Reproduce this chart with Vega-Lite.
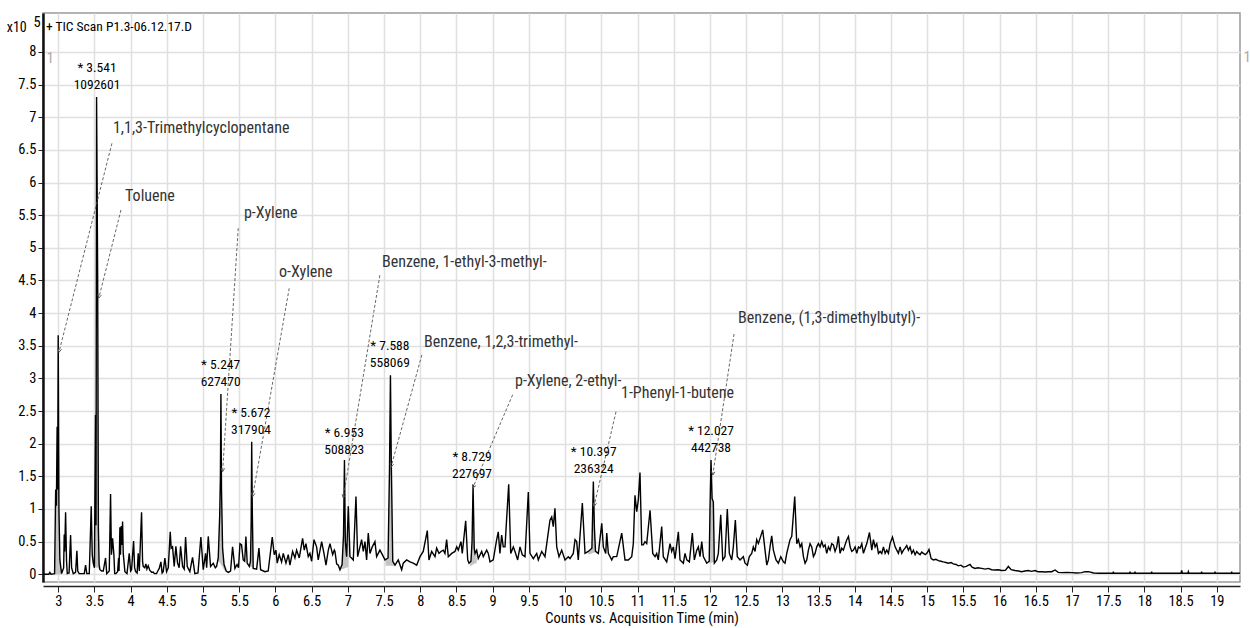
{
  "$schema": "https://vega.github.io/schema/vega-lite/v6.json",
  "width": 1197,
  "height": 569,
  "autosize": {"type": "none"},
  "padding": {"left": 43, "top": 13, "right": 10, "bottom": 46},
  "background": "white",
  "config": {
    "view": {"stroke": "#9a9a9a", "strokeWidth": 1.5},
    "font": "Roboto Condensed, DejaVu Sans Condensed, Liberation Sans, sans-serif",
    "axis": {
      "labelFont": "Roboto Condensed, DejaVu Sans Condensed, Liberation Sans, sans-serif",
      "titleFont": "Roboto Condensed, DejaVu Sans Condensed, Liberation Sans, sans-serif",
      "labelColor": "black",
      "titleColor": "black",
      "gridColor": "#e0e0e0",
      "gridWidth": 1.5,
      "tickColor": "#222",
      "domainColor": "#222",
      "labelOverlap": false
    }
  },
  "encoding": {
    "x": {"type": "quantitative", "scale": {"domain": [2.79, 19.32], "nice": false, "zero": false},
      "axis": {"tickCount": 33, "format": "~g", "labelFontSize": 14.5, "tickSize": 6, "offset": 4, "labelPadding": 2, "domainWidth": 1.5, "labelOverlap": false,
        "title": "Counts vs. Acquisition Time (min)", "titleFontSize": 14.5, "titleFontWeight": "normal", "titlePadding": 4}},
    "y": {"type": "quantitative", "scale": {"domain": [-0.118, 8.596], "nice": false, "zero": false},
      "axis": {"tickCount": 17, "format": "~g", "labelFontSize": 14.5, "labelOverlap": false,
        "labelExpr": "datum.value > 8.2 ? '' : datum.label",
        "gridColor": {"condition": {"test": "datum.value > 8.2", "value": "transparent"}, "value": "#e0e0e0"},
        "tickColor": {"condition": {"test": "datum.value > 8.2", "value": "transparent"}, "value": "#222"},
        "tickSize": 5, "labelPadding": 2, "domainWidth": 2.5, "domainColor": "#111", "title": null}}
  },
  "datasets": {
    "trace": [
      {"t":2.80,"v":0},{"t":2.87,"v":0},{"t":2.885,"v":0.03},{"t":2.9,"v":0},{"t":2.95,"v":0.01},{"t":2.965,"v":1.3},{"t":2.975,"v":1.05},{"t":2.985,"v":2.26},{"t":2.992,"v":1.3},{"t":3.0,"v":3.66},{"t":3.01,"v":1.0},{"t":3.023,"v":0.22},{"t":3.047,"v":0.01},{"t":3.075,"v":0.1},{"t":3.083,"v":0.61},{"t":3.09,"v":0.35},{"t":3.102,"v":0.95},{"t":3.115,"v":0.2},{"t":3.125,"v":0.01},{"t":3.15,"v":0.02},{"t":3.171,"v":0.6},{"t":3.185,"v":0.1},{"t":3.208,"v":0.01},{"t":3.24,"v":0.03},{"t":3.258,"v":0.36},{"t":3.27,"v":0.05},{"t":3.29,"v":0.01},{"t":3.36,"v":0.01},{"t":3.378,"v":0.14},{"t":3.395,"v":0.01},{"t":3.429,"v":0.01},{"t":3.456,"v":1.04},{"t":3.47,"v":0.3},{"t":3.484,"v":0.17},{"t":3.5,"v":0.1},{"t":3.515,"v":2.44},{"t":3.522,"v":0.75},{"t":3.53,"v":7.31},{"t":3.545,"v":4.5},{"t":3.555,"v":0.7},{"t":3.565,"v":0.15},{"t":3.576,"v":0.07},{"t":3.6,"v":0.05},{"t":3.622,"v":0.05},{"t":3.654,"v":0.25},{"t":3.67,"v":0.01},{"t":3.705,"v":0.05},{"t":3.723,"v":1.23},{"t":3.735,"v":0.3},{"t":3.751,"v":0.55},{"t":3.769,"v":0.3},{"t":3.78,"v":0.01},{"t":3.797,"v":0.01},{"t":3.82,"v":0.04},{"t":3.834,"v":0.25},{"t":3.84,"v":0.05},{"t":3.852,"v":0.72},{"t":3.86,"v":0.3},{"t":3.871,"v":0.74},{"t":3.88,"v":0.45},{"t":3.889,"v":0.81},{"t":3.898,"v":0.32},{"t":3.921,"v":0.04},{"t":3.95,"v":0.01},{"t":3.981,"v":0.32},{"t":4.0,"v":0.05},{"t":4.013,"v":0.07},{"t":4.041,"v":0.51},{"t":4.055,"v":0.1},{"t":4.069,"v":0.04},{"t":4.09,"v":0.02},{"t":4.105,"v":0.32},{"t":4.12,"v":0.05},{"t":4.151,"v":0.95},{"t":4.165,"v":0.2},{"t":4.174,"v":0.12},{"t":4.195,"v":0.1},{"t":4.211,"v":0.16},{"t":4.225,"v":0.08},{"t":4.243,"v":0.13},{"t":4.266,"v":0.06},{"t":4.29,"v":0.03},{"t":4.312,"v":0.035},{"t":4.33,"v":0.01},{"t":4.358,"v":0.01},{"t":4.375,"v":0.05},{"t":4.395,"v":0.09},{"t":4.418,"v":0.19},{"t":4.435,"v":0.02},{"t":4.45,"v":0.04},{"t":4.473,"v":0.25},{"t":4.496,"v":0.04},{"t":4.52,"v":0.1},{"t":4.547,"v":0.65},{"t":4.56,"v":0.4},{"t":4.579,"v":0.42},{"t":4.602,"v":0.12},{"t":4.625,"v":0.43},{"t":4.648,"v":0.17},{"t":4.67,"v":0.1},{"t":4.69,"v":0.43},{"t":4.718,"v":0.12},{"t":4.74,"v":0.08},{"t":4.759,"v":0.57},{"t":4.782,"v":0.12},{"t":4.818,"v":0.04},{"t":4.855,"v":0.26},{"t":4.887,"v":0.01},{"t":4.93,"v":0.02},{"t":4.97,"v":0.57},{"t":5.003,"v":0.07},{"t":5.035,"v":0.32},{"t":5.05,"v":0.1},{"t":5.072,"v":0.58},{"t":5.104,"v":0.12},{"t":5.141,"v":0.17},{"t":5.17,"v":0.1},{"t":5.187,"v":0.12},{"t":5.21,"v":0.25},{"t":5.23,"v":0.9},{"t":5.24,"v":1.5},{"t":5.247,"v":2.76},{"t":5.255,"v":1.3},{"t":5.27,"v":0.4},{"t":5.29,"v":0.15},{"t":5.32,"v":0.05},{"t":5.348,"v":0.03},{"t":5.38,"v":0.05},{"t":5.408,"v":0.42},{"t":5.44,"v":0.09},{"t":5.47,"v":0.15},{"t":5.49,"v":0.1},{"t":5.51,"v":0.47},{"t":5.532,"v":0.45},{"t":5.555,"v":0.22},{"t":5.575,"v":0.2},{"t":5.592,"v":0.58},{"t":5.61,"v":0.17},{"t":5.64,"v":0.12},{"t":5.655,"v":0.2},{"t":5.665,"v":0.8},{"t":5.672,"v":2.03},{"t":5.68,"v":1.0},{"t":5.693,"v":0.09},{"t":5.74,"v":0.08},{"t":5.772,"v":0.4},{"t":5.795,"v":0.07},{"t":5.855,"v":0.04},{"t":5.9,"v":0.05},{"t":5.956,"v":0.57},{"t":5.983,"v":0.3},{"t":6.006,"v":0.37},{"t":6.025,"v":0.17},{"t":6.052,"v":0.3},{"t":6.085,"v":0.19},{"t":6.108,"v":0.32},{"t":6.145,"v":0.17},{"t":6.177,"v":0.3},{"t":6.2,"v":0.14},{"t":6.237,"v":0.35},{"t":6.269,"v":0.25},{"t":6.292,"v":0.37},{"t":6.329,"v":0.25},{"t":6.375,"v":0.55},{"t":6.398,"v":0.37},{"t":6.421,"v":0.47},{"t":6.453,"v":0.27},{"t":6.476,"v":0.32},{"t":6.5,"v":0.2},{"t":6.532,"v":0.53},{"t":6.568,"v":0.42},{"t":6.591,"v":0.22},{"t":6.638,"v":0.5},{"t":6.67,"v":0.32},{"t":6.698,"v":0.14},{"t":6.73,"v":0.37},{"t":6.753,"v":0.47},{"t":6.79,"v":0.3},{"t":6.813,"v":0.37},{"t":6.822,"v":0.35},{"t":6.845,"v":0.16},{"t":6.868,"v":0.14},{"t":6.891,"v":0.07},{"t":6.92,"v":0.15},{"t":6.94,"v":0.6},{"t":6.953,"v":1.75},{"t":6.965,"v":0.5},{"t":6.983,"v":0.27},{"t":7.006,"v":1.04},{"t":7.029,"v":0.27},{"t":7.05,"v":0.25},{"t":7.075,"v":0.22},{"t":7.112,"v":1.19},{"t":7.135,"v":0.27},{"t":7.167,"v":0.42},{"t":7.19,"v":0.53},{"t":7.213,"v":0.35},{"t":7.236,"v":0.5},{"t":7.259,"v":0.22},{"t":7.282,"v":0.63},{"t":7.305,"v":0.32},{"t":7.337,"v":0.42},{"t":7.374,"v":0.5},{"t":7.397,"v":0.27},{"t":7.443,"v":0.37},{"t":7.467,"v":0.32},{"t":7.513,"v":0.22},{"t":7.555,"v":0.25},{"t":7.575,"v":1.6},{"t":7.588,"v":3.05},{"t":7.6,"v":1.7},{"t":7.62,"v":0.2},{"t":7.651,"v":0.14},{"t":7.696,"v":0.22},{"t":7.743,"v":0.07},{"t":7.765,"v":0.17},{"t":7.812,"v":0.22},{"t":7.858,"v":0.19},{"t":7.903,"v":0.17},{"t":7.95,"v":0.14},{"t":7.996,"v":0.27},{"t":8.041,"v":0.35},{"t":8.097,"v":0.67},{"t":8.12,"v":0.22},{"t":8.157,"v":0.35},{"t":8.203,"v":0.27},{"t":8.226,"v":0.4},{"t":8.258,"v":0.32},{"t":8.286,"v":0.35},{"t":8.318,"v":0.37},{"t":8.341,"v":0.32},{"t":8.364,"v":0.53},{"t":8.387,"v":0.27},{"t":8.434,"v":0.32},{"t":8.479,"v":0.35},{"t":8.503,"v":0.42},{"t":8.525,"v":0.37},{"t":8.562,"v":0.5},{"t":8.58,"v":0.32},{"t":8.627,"v":0.82},{"t":8.655,"v":0.22},{"t":8.673,"v":0.17},{"t":8.7,"v":0.2},{"t":8.715,"v":0.5},{"t":8.729,"v":1.37},{"t":8.745,"v":0.4},{"t":8.756,"v":0.32},{"t":8.779,"v":0.37},{"t":8.801,"v":0.24},{"t":8.848,"v":0.35},{"t":8.87,"v":0.27},{"t":8.917,"v":0.37},{"t":8.939,"v":0.32},{"t":8.963,"v":0.19},{"t":9.008,"v":0.22},{"t":9.055,"v":0.53},{"t":9.077,"v":0.65},{"t":9.1,"v":0.32},{"t":9.124,"v":0.6},{"t":9.146,"v":0.42},{"t":9.17,"v":0.42},{"t":9.221,"v":1.38},{"t":9.249,"v":0.32},{"t":9.285,"v":0.42},{"t":9.308,"v":0.35},{"t":9.345,"v":0.22},{"t":9.377,"v":0.42},{"t":9.409,"v":0.3},{"t":9.446,"v":0.27},{"t":9.492,"v":1.26},{"t":9.515,"v":0.32},{"t":9.561,"v":0.24},{"t":9.608,"v":0.32},{"t":9.63,"v":0.22},{"t":9.677,"v":0.35},{"t":9.722,"v":0.27},{"t":9.791,"v":0.83},{"t":9.815,"v":0.88},{"t":9.837,"v":0.73},{"t":9.86,"v":1.01},{"t":9.884,"v":0.42},{"t":9.916,"v":0.27},{"t":9.953,"v":0.37},{"t":9.999,"v":0.22},{"t":10.044,"v":0.27},{"t":10.068,"v":0.24},{"t":10.113,"v":0.32},{"t":10.137,"v":0.53},{"t":10.16,"v":0.5},{"t":10.182,"v":0.22},{"t":10.238,"v":1.09},{"t":10.275,"v":0.32},{"t":10.32,"v":0.35},{"t":10.37,"v":0.4},{"t":10.39,"v":1.42},{"t":10.405,"v":0.7},{"t":10.42,"v":0.35},{"t":10.459,"v":0.32},{"t":10.506,"v":0.78},{"t":10.528,"v":0.42},{"t":10.561,"v":0.32},{"t":10.575,"v":0.63},{"t":10.597,"v":0.32},{"t":10.644,"v":0.22},{"t":10.666,"v":0.27},{"t":10.713,"v":0.27},{"t":10.782,"v":0.63},{"t":10.827,"v":0.22},{"t":10.873,"v":0.22},{"t":10.92,"v":0.27},{"t":10.942,"v":0.47},{"t":10.965,"v":1.21},{"t":10.989,"v":0.96},{"t":11.011,"v":1.14},{"t":11.034,"v":1.56},{"t":11.058,"v":0.45},{"t":11.08,"v":0.45},{"t":11.103,"v":0.5},{"t":11.127,"v":0.47},{"t":11.173,"v":0.98},{"t":11.21,"v":0.32},{"t":11.242,"v":0.27},{"t":11.265,"v":0.32},{"t":11.287,"v":0.22},{"t":11.334,"v":0.73},{"t":11.356,"v":0.27},{"t":11.403,"v":0.19},{"t":11.425,"v":0.32},{"t":11.449,"v":0.47},{"t":11.472,"v":0.35},{"t":11.494,"v":0.42},{"t":11.518,"v":0.24},{"t":11.564,"v":0.65},{"t":11.587,"v":0.22},{"t":11.633,"v":0.17},{"t":11.656,"v":0.32},{"t":11.68,"v":0.22},{"t":11.716,"v":0.19},{"t":11.757,"v":0.63},{"t":11.785,"v":0.22},{"t":11.818,"v":0.37},{"t":11.84,"v":0.42},{"t":11.863,"v":0.27},{"t":11.887,"v":0.5},{"t":11.909,"v":0.27},{"t":11.956,"v":0.17},{"t":11.99,"v":0.2},{"t":12.001,"v":1.0},{"t":12.015,"v":1.75},{"t":12.03,"v":1.16},{"t":12.047,"v":1.11},{"t":12.061,"v":0.17},{"t":12.094,"v":0.22},{"t":12.116,"v":0.32},{"t":12.149,"v":0.91},{"t":12.177,"v":0.22},{"t":12.208,"v":0.27},{"t":12.24,"v":1.0},{"t":12.268,"v":0.32},{"t":12.301,"v":0.22},{"t":12.323,"v":0.42},{"t":12.351,"v":0.83},{"t":12.378,"v":0.27},{"t":12.416,"v":0.22},{"t":12.461,"v":0.27},{"t":12.485,"v":0.17},{"t":12.517,"v":0.14},{"t":12.544,"v":0.27},{"t":12.577,"v":0.32},{"t":12.599,"v":0.42},{"t":12.623,"v":0.35},{"t":12.646,"v":0.53},{"t":12.669,"v":0.47},{"t":12.729,"v":0.68},{"t":12.761,"v":0.37},{"t":12.785,"v":0.14},{"t":12.807,"v":0.22},{"t":12.83,"v":0.42},{"t":12.853,"v":0.59},{"t":12.876,"v":0.37},{"t":12.913,"v":0.22},{"t":12.945,"v":0.17},{"t":12.978,"v":0.27},{"t":13.014,"v":0.19},{"t":13.037,"v":0.17},{"t":13.061,"v":0.32},{"t":13.106,"v":0.53},{"t":13.13,"v":0.58},{"t":13.171,"v":1.19},{"t":13.199,"v":0.47},{"t":13.222,"v":0.53},{"t":13.245,"v":0.42},{"t":13.268,"v":0.47},{"t":13.291,"v":0.27},{"t":13.314,"v":0.17},{"t":13.337,"v":0.22},{"t":13.36,"v":0.37},{"t":13.383,"v":0.47},{"t":13.406,"v":0.42},{"t":13.429,"v":0.27},{"t":13.452,"v":0.32},{"t":13.475,"v":0.42},{"t":13.498,"v":0.47},{"t":13.521,"v":0.42},{"t":13.544,"v":0.5},{"t":13.567,"v":0.42},{"t":13.59,"v":0.45},{"t":13.613,"v":0.32},{"t":13.636,"v":0.42},{"t":13.659,"v":0.37},{"t":13.682,"v":0.47},{"t":13.705,"v":0.45},{"t":13.728,"v":0.35},{"t":13.751,"v":0.42},{"t":13.774,"v":0.58},{"t":13.797,"v":0.32},{"t":13.82,"v":0.4},{"t":13.843,"v":0.37},{"t":13.866,"v":0.45},{"t":13.89,"v":0.53},{"t":13.913,"v":0.58},{"t":13.936,"v":0.42},{"t":13.959,"v":0.35},{"t":13.982,"v":0.37},{"t":14.005,"v":0.42},{"t":14.028,"v":0.32},{"t":14.051,"v":0.42},{"t":14.074,"v":0.4},{"t":14.097,"v":0.47},{"t":14.12,"v":0.32},{"t":14.143,"v":0.4},{"t":14.166,"v":0.47},{"t":14.203,"v":0.64},{"t":14.235,"v":0.37},{"t":14.258,"v":0.53},{"t":14.281,"v":0.42},{"t":14.304,"v":0.47},{"t":14.327,"v":0.32},{"t":14.35,"v":0.35},{"t":14.373,"v":0.32},{"t":14.396,"v":0.42},{"t":14.419,"v":0.32},{"t":14.442,"v":0.37},{"t":14.465,"v":0.32},{"t":14.488,"v":0.47},{"t":14.521,"v":0.57},{"t":14.557,"v":0.42},{"t":14.58,"v":0.37},{"t":14.603,"v":0.32},{"t":14.626,"v":0.42},{"t":14.649,"v":0.32},{"t":14.672,"v":0.37},{"t":14.695,"v":0.4},{"t":14.718,"v":0.44},{"t":14.741,"v":0.37},{"t":14.764,"v":0.42},{"t":14.787,"v":0.32},{"t":14.81,"v":0.37},{"t":14.833,"v":0.3},{"t":14.856,"v":0.35},{"t":14.879,"v":0.32},{"t":14.902,"v":0.3},{"t":14.925,"v":0.34},{"t":14.948,"v":0.32},{"t":14.975,"v":0.3},{"t":15.0,"v":0.33},{"t":15.025,"v":0.38},{"t":15.055,"v":0.24},{"t":15.085,"v":0.22},{"t":15.12,"v":0.23},{"t":15.154,"v":0.21},{"t":15.19,"v":0.2},{"t":15.223,"v":0.19},{"t":15.26,"v":0.18},{"t":15.292,"v":0.17},{"t":15.33,"v":0.18},{"t":15.361,"v":0.16},{"t":15.4,"v":0.15},{"t":15.43,"v":0.13},{"t":15.465,"v":0.14},{"t":15.499,"v":0.11},{"t":15.54,"v":0.12},{"t":15.592,"v":0.15},{"t":15.62,"v":0.11},{"t":15.661,"v":0.09},{"t":15.7,"v":0.1},{"t":15.753,"v":0.09},{"t":15.8,"v":0.08},{"t":15.845,"v":0.09},{"t":15.89,"v":0.07},{"t":15.937,"v":0.066},{"t":15.98,"v":0.07},{"t":16.029,"v":0.058},{"t":16.08,"v":0.06},{"t":16.121,"v":0.12},{"t":16.16,"v":0.07},{"t":16.213,"v":0.058},{"t":16.26,"v":0.05},{"t":16.305,"v":0.04},{"t":16.35,"v":0.05},{"t":16.397,"v":0.058},{"t":16.44,"v":0.045},{"t":16.489,"v":0.058},{"t":16.53,"v":0.04},{"t":16.581,"v":0.04},{"t":16.63,"v":0.035},{"t":16.673,"v":0.04},{"t":16.72,"v":0.04},{"t":16.766,"v":0.066},{"t":16.81,"v":0.03},{"t":16.858,"v":0.025},{"t":16.93,"v":0.03},{"t":16.996,"v":0.025},{"t":17.06,"v":0.02},{"t":17.134,"v":0.025},{"t":17.18,"v":0.04},{"t":17.226,"v":0.04},{"t":17.3,"v":0.02},{"t":17.364,"v":0.015},{"t":17.566,"v":0.015},{"t":17.571,"v":0.04},{"t":17.576,"v":0.015},{"t":17.796,"v":0.015},{"t":17.801,"v":0.04},{"t":17.806,"v":0.015},{"t":17.865,"v":0.015},{"t":17.87,"v":0.04},{"t":17.875,"v":0.015},{"t":18.095,"v":0.015},{"t":18.1,"v":0.04},{"t":18.105,"v":0.015},{"t":18.505,"v":0.015},{"t":18.515,"v":0.06},{"t":18.525,"v":0.015},{"t":18.6,"v":0.015},{"t":18.607,"v":0.04},{"t":18.614,"v":0.015},{"t":18.785,"v":0.015},{"t":18.79,"v":0.04},{"t":18.795,"v":0.015},{"t":18.97,"v":0.015},{"t":18.975,"v":0.04},{"t":18.98,"v":0.015},{"t":19.2,"v":0.015},{"t":19.205,"v":0.04},{"t":19.21,"v":0.015},{"t":19.32,"v":0.015}
    ],
    "fills": [
      {"p":"a","t":2.95,"v":0.01,"b":0},{"p":"a","t":2.965,"v":1.3,"b":0},{"p":"a","t":2.975,"v":1.05,"b":0},{"p":"a","t":2.985,"v":2.26,"b":0},{"p":"a","t":2.992,"v":1.3,"b":0},{"p":"a","t":3.0,"v":3.66,"b":0},{"p":"a","t":3.01,"v":1.0,"b":0},{"p":"a","t":3.023,"v":0.22,"b":0},{"p":"a","t":3.047,"v":0.01,"b":0},
      {"p":"b","t":3.49,"v":0.12,"b":0.12},{"p":"b","t":3.5,"v":0.3,"b":0.12},{"p":"b","t":3.515,"v":2.44,"b":0.11},{"p":"b","t":3.522,"v":0.75,"b":0.11},{"p":"b","t":3.53,"v":7.31,"b":0.1},{"p":"b","t":3.545,"v":4.5,"b":0.1},{"p":"b","t":3.555,"v":0.7,"b":0.09},{"p":"b","t":3.565,"v":0.15,"b":0.08},{"p":"b","t":3.576,"v":0.07,"b":0.07},
      {"p":"c","t":5.2,"v":0.22,"b":0.22},{"p":"c","t":5.21,"v":0.3,"b":0.2},{"p":"c","t":5.23,"v":0.9,"b":0.18},{"p":"c","t":5.24,"v":1.5,"b":0.16},{"p":"c","t":5.247,"v":2.76,"b":0.15},{"p":"c","t":5.255,"v":1.3,"b":0.14},{"p":"c","t":5.27,"v":0.4,"b":0.11},{"p":"c","t":5.29,"v":0.15,"b":0.07},{"p":"c","t":5.31,"v":0.04,"b":0.04},
      {"p":"d","t":5.648,"v":0.13,"b":0.12},{"p":"d","t":5.655,"v":0.2,"b":0.12},{"p":"d","t":5.665,"v":0.8,"b":0.11},{"p":"d","t":5.672,"v":2.03,"b":0.11},{"p":"d","t":5.68,"v":1.0,"b":0.1},{"p":"d","t":5.693,"v":0.09,"b":0.09},
      {"p":"e","t":6.891,"v":0.07,"b":0.07},{"p":"e","t":6.92,"v":0.15,"b":0.08},{"p":"e","t":6.94,"v":0.6,"b":0.085},{"p":"e","t":6.953,"v":1.75,"b":0.09},{"p":"e","t":6.965,"v":0.5,"b":0.095},{"p":"e","t":6.983,"v":0.27,"b":0.1},{"p":"e","t":7.0,"v":0.85,"b":0.11},{"p":"e","t":7.006,"v":1.04,"b":0.115},
      {"p":"f","t":7.52,"v":0.22,"b":0.13},{"p":"f","t":7.555,"v":0.25,"b":0.13},{"p":"f","t":7.575,"v":1.6,"b":0.13},{"p":"f","t":7.588,"v":3.05,"b":0.13},{"p":"f","t":7.6,"v":1.7,"b":0.13},{"p":"f","t":7.62,"v":0.2,"b":0.13},{"p":"f","t":7.64,"v":0.15,"b":0.13},
      {"p":"g","t":8.685,"v":0.18,"b":0.12},{"p":"g","t":8.7,"v":0.2,"b":0.13},{"p":"g","t":8.715,"v":0.5,"b":0.14},{"p":"g","t":8.729,"v":1.37,"b":0.15},{"p":"g","t":8.745,"v":0.4,"b":0.16},{"p":"g","t":8.756,"v":0.32,"b":0.165},{"p":"g","t":8.779,"v":0.37,"b":0.17},
      {"p":"h","t":10.32,"v":0.35,"b":0.3},{"p":"h","t":10.37,"v":0.4,"b":0.32},{"p":"h","t":10.39,"v":1.42,"b":0.33},{"p":"h","t":10.405,"v":0.7,"b":0.33},{"p":"h","t":10.42,"v":0.35,"b":0.34},{"p":"h","t":10.44,"v":0.34,"b":0.34},
      {"p":"i","t":11.985,"v":0.19,"b":0.17},{"p":"i","t":11.99,"v":0.2,"b":0.17},{"p":"i","t":12.001,"v":1.0,"b":0.17},{"p":"i","t":12.015,"v":1.75,"b":0.18},{"p":"i","t":12.03,"v":1.16,"b":0.18},{"p":"i","t":12.047,"v":1.11,"b":0.185},{"p":"i","t":12.061,"v":0.19,"b":0.19}
    ],
    "arrows": [
      {"t1":3.742,"v1":6.6,"t2":3.01,"v2":3.4,"ang":194.4},
      {"t1":3.867,"v1":5.58,"t2":3.56,"v2":4.23,"ang":194},
      {"t1":5.486,"v1":5.3,"t2":5.27,"v2":1.57,"ang":183.7},
      {"t1":6.19,"v1":4.38,"t2":5.685,"v2":1.19,"ang":190},
      {"t1":7.442,"v1":4.58,"t2":6.936,"v2":1.17,"ang":189.3},
      {"t1":8.022,"v1":3.36,"t2":7.595,"v2":1.64,"ang":195.4},
      {"t1":9.276,"v1":2.75,"t2":8.724,"v2":1.32,"ang":203.2},
      {"t1":10.703,"v1":2.49,"t2":10.399,"v2":1.04,"ang":193},
      {"t1":12.333,"v1":3.68,"t2":12.039,"v2":1.52,"ang":188.5}
    ],
    "names": [
      {"t":3.756,"v":6.83,"label":"1,1,3-Trimethylcyclopentane"},
      {"t":3.923,"v":5.79,"label":"Toluene"},
      {"t":5.565,"v":5.53,"label":"p-Xylene"},
      {"t":6.048,"v":4.63,"label":"o-Xylene"},
      {"t":7.471,"v":4.78,"label":"Benzene, 1-ethyl-3-methyl-"},
      {"t":8.051,"v":3.56,"label":"Benzene, 1,2,3-trimethyl-"},
      {"t":9.308,"v":2.96,"label":"p-Xylene, 2-ethyl-"},
      {"t":10.772,"v":2.78,"label":"1-Phenyl-1-butene"},
      {"t":12.388,"v":3.93,"label":"Benzene, (1,3-dimethylbutyl)-"}
    ],
    "peaks": [
      {"t":3.536,"v":7.75,"label":"* 3.541\n1092601"},
      {"t":5.243,"v":3.205,"label":"* 5.247\n627470"},
      {"t":5.662,"v":2.465,"label":"* 5.672\n317904"},
      {"t":6.95,"v":2.17,"label":"* 6.953\n508823"},
      {"t":7.58,"v":3.5,"label":"* 7.588\n558069"},
      {"t":8.714,"v":1.8,"label":"* 8.729\n227697"},
      {"t":10.395,"v":1.88,"label":"* 10.397\n236324"},
      {"t":12.015,"v":2.2,"label":"* 12.027\n442738"}
    ],
    "misc": [
      {"t":2.83,"v":8.38,"label":"+ TIC Scan P1.3-06.12.17.D","kind":"title"},
      {"t":2.29,"v":8.37,"label":"x10","kind":"big"},
      {"t":2.66,"v":8.45,"label":"5","kind":"sup"},
      {"t":2.84,"v":7.91,"label":"1","kind":"one"},
      {"t":19.37,"v":7.92,"label":"1","kind":"one"}
    ]
  },
  "layer": [
    {
      "data": {"name": "fills"},
      "mark": {"type": "area", "color": "#c4c4c4", "opacity": 1},
      "encoding": {
        "x": {"field": "t", "type": "quantitative"},
        "y": {"field": "v", "type": "quantitative"},
        "y2": {"field": "b"},
        "detail": {"field": "p"}
      }
    },
    {
      "data": {"name": "trace"},
      "mark": {"type": "line", "color": "black", "strokeWidth": 1.4, "strokeJoin": "miter"},
      "encoding": {
        "x": {"field": "t", "type": "quantitative"},
        "y": {"field": "v", "type": "quantitative"}
      }
    },
    {
      "data": {"name": "arrows"},
      "mark": {"type": "rule", "color": "#555", "strokeWidth": 0.9, "strokeDash": [3, 2]},
      "encoding": {
        "x": {"field": "t1", "type": "quantitative"},
        "y": {"field": "v1", "type": "quantitative"},
        "x2": {"field": "t2"},
        "y2": {"field": "v2"}
      }
    },
    {
      "data": {"name": "arrows"},
      "mark": {"type": "point", "shape": "M-0.5,1L0,0L0.5,1", "filled": false, "size": 50, "color": "#555", "strokeWidth": 0.9, "opacity": 1},
      "encoding": {
        "x": {"field": "t2", "type": "quantitative"},
        "y": {"field": "v2", "type": "quantitative"},
        "angle": {"field": "ang", "type": "quantitative", "scale": null}
      }
    },
    {
      "data": {"name": "names"},
      "mark": {"type": "text", "align": "left", "baseline": "middle", "fontSize": 16, "color": "#333"},
      "encoding": {
        "x": {"field": "t", "type": "quantitative"},
        "y": {"field": "v", "type": "quantitative"},
        "text": {"field": "label"}
      }
    },
    {
      "data": {"name": "peaks"},
      "mark": {"type": "text", "align": "center", "baseline": "middle", "fontSize": 13.5, "lineBreak": "\n", "lineHeight": 17, "color": "black"},
      "encoding": {
        "x": {"field": "t", "type": "quantitative"},
        "y": {"field": "v", "type": "quantitative"},
        "text": {"field": "label"}
      }
    },
    {
      "data": {"name": "misc"},
      "mark": {"type": "text", "align": "left", "baseline": "middle"},
      "encoding": {
        "x": {"field": "t", "type": "quantitative"},
        "y": {"field": "v", "type": "quantitative"},
        "text": {"field": "label"},
        "size": {"field": "kind", "type": "nominal", "scale": {"domain": ["title", "big", "sup", "one"], "range": [13.5, 15, 11, 12]}, "legend": null},
        "color": {"field": "kind", "type": "nominal", "scale": {"domain": ["title", "big", "sup", "one"], "range": ["#000000", "#000000", "#000000", "#aaaaaa"]}, "legend": null}
      }
    }
  ]
}
